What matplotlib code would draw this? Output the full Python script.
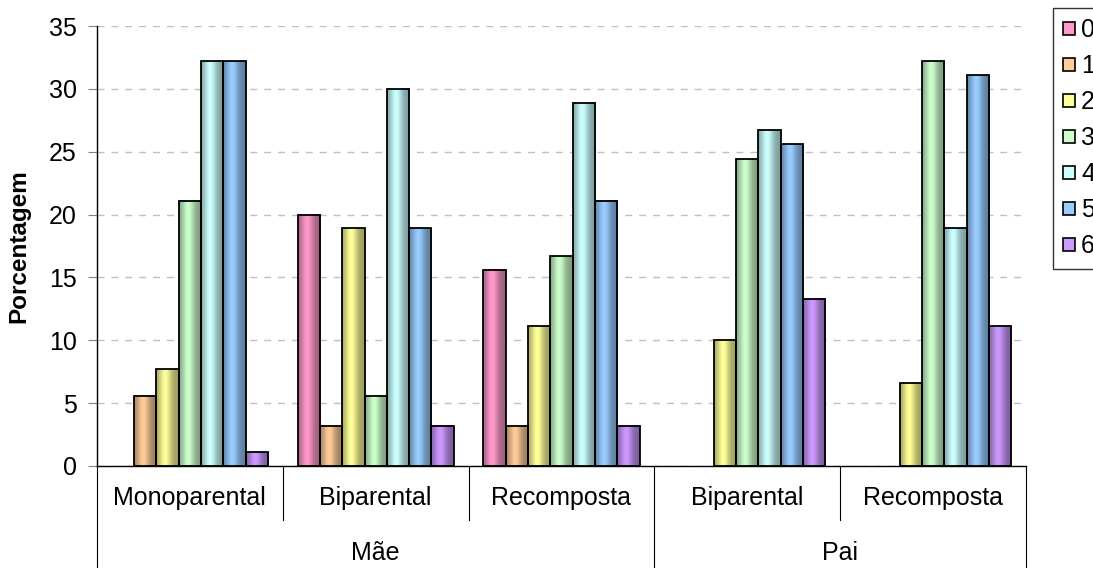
import numpy as np
import matplotlib
matplotlib.use('Agg')
import matplotlib.pyplot as plt
from matplotlib.colors import to_rgb
from matplotlib.patches import Patch

plt.rcParams['font.family'] = ['Liberation Sans', 'DejaVu Sans']

subgroups = ['Monoparental', 'Biparental', 'Recomposta', 'Biparental', 'Recomposta']
groups = ['Mãe', 'Pai']
series = ['0', '1', '2', '3', '4', '5', '6']
colors = ['#FF99CC', '#FFCC99', '#FFFF99', '#CCFFCC', '#CCFFFF', '#99CCFF', '#CC99FF']

# one list per series, values for the 5 subgroups
s0 = [0.0, 20.0, 15.6, 0.0, 0.0]
s1 = [5.6, 3.2, 3.2, 0.0, 0.0]
s2 = [7.7, 18.9, 11.1, 10.0, 6.6]
s3 = [21.1, 5.6, 16.7, 24.4, 32.2]
s4 = [32.2, 30.0, 28.9, 26.7, 18.9]
s5 = [32.2, 18.9, 21.1, 25.6, 31.1]
s6 = [1.1, 3.2, 3.2, 13.3, 11.1]
values = [s0, s1, s2, s3, s4, s5, s6]

fig = plt.figure(figsize=(10.93, 5.68), dpi=100)
ax = fig.add_axes([0.0887, 0.1796, 0.85, 0.7746])

w = 0.12
t = np.linspace(0, 1, 40)
prof = 0.62 + 0.38 * np.exp(-((t - 0.4) / 0.28) ** 2)

x = np.arange(len(subgroups)) + 0.5
for j, (vals, c) in enumerate(zip(values, colors)):
    xs = x + (j - 3) * w
    rgb = np.array(to_rgb(c))
    grad = (prof[:, None] * rgb[None, :])[None, :, :]
    for xc, v in zip(xs, vals):
        if v == 0:
            continue
        x0 = xc - w / 2
        ax.imshow(grad, extent=[x0, x0 + w, 0, v], aspect='auto', zorder=2.5,
                  interpolation='bilinear')
        ax.bar(xc, v, w, facecolor='none', edgecolor='black',
               linewidth=1.3, zorder=3)

ax.set_xlim(0, 5)
ax.set_ylim(0, 35)
ax.set_yticks(range(0, 36, 5))
ax.tick_params(axis='y', labelsize=18, length=6.5, pad=8, color='#808080')
ax.tick_params(axis='x', bottom=False, labelbottom=False)
ax.yaxis.grid(True, linestyle=(0, (5, 5)), color='#C0C0C0', linewidth=1)
ax.set_axisbelow(True)
for s in ['top', 'right']:
    ax.spines[s].set_visible(False)
ax.spines['left'].set_linewidth(1)
ax.spines['bottom'].set_linewidth(1)
ax.set_ylabel('Porcentagem', fontsize=17.5, fontweight='bold')
ax.yaxis.set_label_coords(-0.072, 0.5)

# two-level category axis
tr = ax.get_xaxis_transform()
for xb in [0, 3, 5]:
    ax.plot([xb, xb], [0, -0.25], transform=tr, color='black', lw=0.8, clip_on=False)
for xb in [1, 2, 4]:
    ax.plot([xb, xb], [0, -0.123], transform=tr, color='black', lw=0.8, clip_on=False)
for xc, lab in zip(x, subgroups):
    ax.text(xc, -0.072, lab, transform=tr, ha='center', va='center', fontsize=18)
ax.text(1.5, -0.198, groups[0], transform=tr, ha='center', va='center', fontsize=18)
ax.text(4.0, -0.198, groups[1], transform=tr, ha='center', va='center', fontsize=18)

handles = [Patch(facecolor=c, edgecolor='black', linewidth=1.2) for c in colors]
leg = ax.legend(handles, series, loc='upper left', bbox_to_anchor=(1.029, 1.041),
                borderaxespad=0, fontsize=18, frameon=True, fancybox=False,
                handlelength=0.45, handleheight=0.45, handletextpad=0.25,
                labelspacing=0.48, borderpad=0.42)
leg.get_frame().set_edgecolor('black')
leg.get_frame().set_linewidth(1)

fig.savefig('out.png', dpi=100)
